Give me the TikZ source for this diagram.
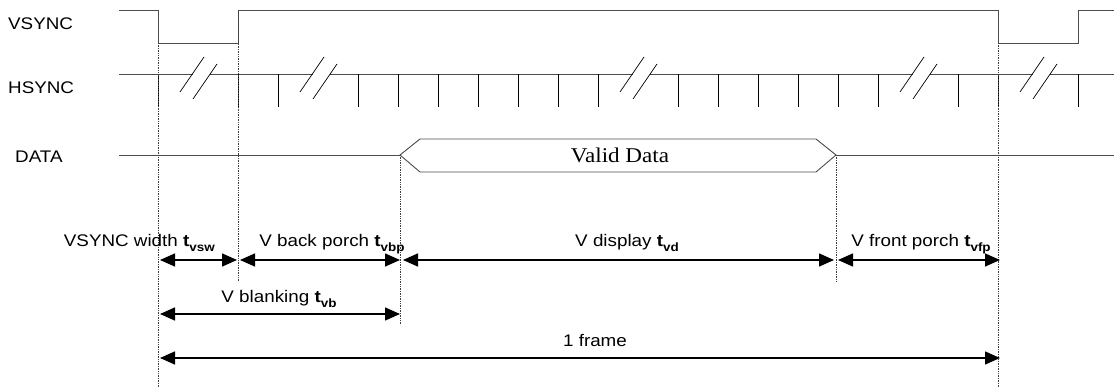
\documentclass[tikz,border=0pt]{standalone}
\usepackage{fontspec}
\setmainfont[FakeStretch=1.12]{Liberation Sans}
\newfontfamily\validfont[FakeStretch=1.1]{Liberation Serif}
\usetikzlibrary{arrows.meta}
\newcommand\tsub[1]{\textbf{t}\raisebox{-0.5ex}{\fontsize{12}{13}\selectfont\bfseries #1}}
\tikzset{
sigline/.style={line width=0.9pt, black!70},
tickline/.style={line width=0.7pt, black},
markline/.style={densely dotted, line width=0.7pt, black!75},
dimarrow/.style={{Triangle[length=15pt,width=13pt]}-{Triangle[length=15pt,width=13pt]}, line width=1.5pt},
lbl/.style={font=\fontsize{16.8}{20}\selectfont, inner sep=0pt},
sigbreak/.pic={
  \fill[white] (-5,-2) rectangle (11.5,2);
  \draw[tickline] (-18,18) -- (6,-17);
  \draw[tickline] (-5,25) -- (19,-10);
  }
}
\begin{document}
\begin{tikzpicture}[x=1pt,y=-1pt]
\useasboundingbox (0,0) rectangle (1114,387);
% timing marks
\coordinate (vsfall) at (158,0);
\coordinate (vsrise) at (238,0);
\coordinate (dstart) at (400,0);
\coordinate (dend) at (836,0);
\coordinate (vsnext) at (998,0);
\coordinate (row1) at (0,260);
\coordinate (row2) at (0,314);
\coordinate (row3) at (0,358);
% signal names
\node[lbl, anchor=west] (vsname) at (8,24) {VSYNC};
\node[lbl, anchor=west] (hsname) at (8,88) {HSYNC};
\node[lbl, anchor=west] (dname) at (15,157) {DATA};
% VSYNC
\draw[sigline] (119,10) -- (158,10) -- (158,43) -- (238,43) -- (238,10) -- (998,10) -- (998,43) -- (1078,43) -- (1078,10) -- (1114,10);
% HSYNC
\draw[sigline] (119,74) -- (1114,74);
\foreach \x in {158,238,278,358,398,...,598,678,718,...,878,958,998,1078}
  \draw[tickline] (\x,74) -- (\x,107);
\foreach \x in {198,318,638,918,1038}
  \pic at (\x,74) {sigbreak};
% DATA
\draw[sigline] (119,155) -- (dstart |- 0,155);
\draw[sigline] (dend |- 0,155) -- (1114,155);
\node[font=\validfont\fontsize{21}{24}\selectfont, inner sep=0pt] (valid) at (620,155) {Valid Data};
\draw[sigline] (dstart |- 0,155) -- (420,139) -- (816,139) -- (dend |- 0,155) -- (816,172) -- (420,172) -- cycle;
% dotted marks
\draw[markline] (vsfall |- 0,43) -- (vsfall |- 0,387);
\draw[markline] (vsrise |- 0,10) -- (vsrise |- 0,282);
\draw[markline] (dstart |- 0,155) -- (dstart |- 0,325);
\draw[markline] (dend |- 0,155) -- (dend |- 0,282);
\draw[markline] (vsnext |- 0,43) -- (vsnext |- 0,387);
% periods
\draw[dimarrow, shorten <=2pt, shorten >=1pt] (vsfall |- row1) -- (vsrise |- row1);
\draw[dimarrow, shorten <=2pt] (vsrise |- row1) -- (dstart |- row1);
\draw[dimarrow, shorten <=3pt, shorten >=2pt] (dstart |- row1) -- (dend |- row1);
\draw[dimarrow, shorten <=2pt, shorten >=-2pt] (dend |- row1) -- (vsnext |- row1);
\draw[dimarrow, shorten <=2pt] (vsfall |- row2) -- (dstart |- row2);
\draw[dimarrow, shorten <=2pt, shorten >=-2pt] (vsfall |- row3) -- (vsnext |- row3);
\node[lbl, anchor=base east] (twidth) at (215,247) {VSYNC width \tsub{vsw}};
\node[lbl, anchor=base] (tback) at (332,247) {V back porch \tsub{vbp}};
\node[lbl, anchor=base] (tdisp) at (627,247) {V display \tsub{vd}};
\node[lbl, anchor=base] (tfront) at (921,247) {V front porch \tsub{vfp}};
\node[lbl, anchor=base] (tblank) at (279,303) {V blanking \tsub{vb}};
\node[lbl, anchor=base] (tframe) at (595,347) {1 frame};
\end{tikzpicture}
\end{document}
